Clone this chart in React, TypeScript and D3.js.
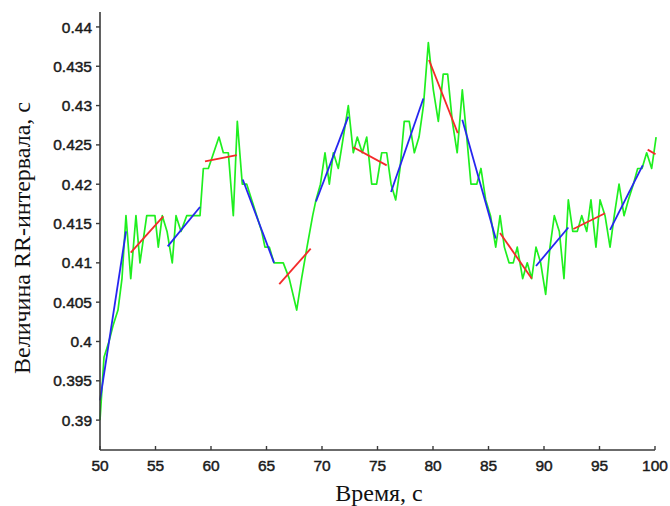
import * as d3 from "d3";

// beat times (s) and RR interval values (s)
const times = [
  50.0, 50.36, 50.81, 51.17, 51.62, 51.98, 52.34, 52.77, 53.24, 53.6, 54.21, 54.59, 54.95, 55.25,
  55.61, 56.04, 56.51, 56.85, 57.3, 57.81, 58.2, 58.56, 59.01, 59.31, 59.76, 60.24, 60.72, 61.11,
  61.56, 62.01, 62.37, 62.82, 63.22, 63.67, 64.12, 64.57, 64.86, 65.25, 65.68, 66.08, 66.51, 67.05,
  67.72, 68.16, 68.65, 69.16, 69.46, 69.86, 70.27, 70.66, 71.02, 71.47, 71.92, 72.37, 72.82, 73.18,
  73.63, 74.03, 74.48, 74.92, 75.38, 75.83, 76.22, 76.64, 77.03, 77.41, 77.86, 78.32, 78.74, 79.14,
  79.58, 80.03, 80.48, 80.92, 81.32, 81.74, 82.18, 82.64, 83.04, 83.42, 83.94, 84.32, 84.75, 85.18,
  85.65, 86.04, 86.43, 86.85, 87.23, 87.59, 88.08, 88.49, 88.89, 89.28, 89.7, 90.15, 90.54, 90.93,
  91.38, 91.8, 92.19, 92.59, 93.0, 93.4, 93.85, 94.23, 94.68, 95.05, 95.5, 95.95, 96.33, 96.76,
  97.21, 97.6, 98.05, 98.44, 98.83, 99.25, 99.7, 100.1,
];
const rrValues = [
  0.39, 0.398, 0.4, 0.402, 0.404, 0.408, 0.416, 0.408, 0.416, 0.41, 0.416, 0.416, 0.416, 0.412,
  0.416, 0.414, 0.41, 0.416, 0.414, 0.416, 0.416, 0.416, 0.416, 0.422, 0.422, 0.424, 0.426, 0.424,
  0.424, 0.416, 0.428, 0.42, 0.42, 0.418, 0.416, 0.414, 0.412, 0.412, 0.41, 0.41, 0.41, 0.408,
  0.404, 0.408, 0.412, 0.416, 0.418, 0.42, 0.424, 0.42, 0.424, 0.422, 0.426, 0.43, 0.424, 0.426,
  0.424, 0.426, 0.42, 0.42, 0.424, 0.424, 0.42, 0.418, 0.422, 0.428, 0.428, 0.424, 0.426, 0.43,
  0.438, 0.432, 0.428, 0.434, 0.434, 0.428, 0.424, 0.432, 0.426, 0.42, 0.42, 0.422, 0.418, 0.416,
  0.412, 0.416, 0.412, 0.41, 0.41, 0.412, 0.408, 0.41, 0.408, 0.412, 0.41, 0.406, 0.412, 0.416,
  0.414, 0.408, 0.418, 0.414, 0.414, 0.416, 0.414, 0.418, 0.412, 0.418, 0.416, 0.412, 0.416, 0.42,
  0.416, 0.418, 0.42, 0.422, 0.422, 0.424, 0.422, 0.426,
];

// linear fits over ~3 s windows (alternating blue / red)
const fitStartT = [50.0, 52.77, 56.1, 59.46, 62.86, 66.15, 69.46, 72.82, 76.22, 79.64, 82.64, 86.04, 89.28, 92.64, 95.95, 99.34];
const fitEndT = [52.34, 55.7, 59.01, 62.32, 65.68, 68.98, 72.37, 75.83, 79.13, 82.23, 85.65, 88.89, 92.19, 95.5, 98.89, 100.05];
const fitStartV = [0.3925, 0.4113, 0.4121, 0.4229, 0.4206, 0.4073, 0.4178, 0.4247, 0.419, 0.4358, 0.4282, 0.4138, 0.4096, 0.4143, 0.4142, 0.4244];
const fitEndV = [0.414, 0.4159, 0.4171, 0.4237, 0.41, 0.4118, 0.4286, 0.4224, 0.4309, 0.4265, 0.4131, 0.408, 0.4145, 0.4163, 0.4224, 0.4238];

const xTicks = [50, 55, 60, 65, 70, 75, 80, 85, 90, 95, 100];
const yTicks = [0.39, 0.395, 0.4, 0.405, 0.41, 0.415, 0.42, 0.425, 0.43, 0.435, 0.44];

const W = 670;
const H = 506;
const left = 100;
const right = 655;
const top = 12;
const bottom = 450;

export default function App() {
  const x = d3.scaleLinear().domain([50, 100]).range([left, right]);
  const y = d3.scaleLinear().domain([0.3862, 0.4419]).range([bottom, top]);

  const pts = times.map((t, i) => [t, rrValues[i]] as [number, number]);
  const line = d3
    .line<[number, number]>()
    .x((d) => x(d[0]))
    .y((d) => y(d[1]));

  const axisColor = "#3a3a3a";
  const tickFont = "'Liberation Sans', Arial, sans-serif";
  const titleFont = "'Liberation Serif', 'Times New Roman', serif";

  return (
    <svg
      width={W}
      height={H}
      style={{ position: "absolute", left: 0, top: 0, background: "#fff" }}
    >
      {/* green RR series */}
      <path d={line(pts) || ""} fill="none" stroke="#1fef1f" strokeWidth={1.7} strokeLinejoin="round" />

      {/* fitted segments */}
      {fitStartT.map((t0, i) => (
        <line
          key={i}
          x1={x(t0)}
          y1={y(fitStartV[i])}
          x2={x(fitEndT[i])}
          y2={y(fitEndV[i])}
          stroke={i % 2 === 0 ? "#2626f0" : "#f42a2a"}
          strokeWidth={1.8}
        />
      ))}

      {/* axes */}
      <line x1={left} y1={top} x2={left} y2={bottom} stroke={axisColor} strokeWidth={1.6} />
      <line x1={left} y1={bottom} x2={right} y2={bottom} stroke={axisColor} strokeWidth={1.6} />

      {yTicks.map((v) => (
        <g key={v}>
          <line x1={left - 4} x2={left} y1={y(v)} y2={y(v)} stroke={axisColor} strokeWidth={1.4} />
          <text
            x={left - 8}
            y={y(v)}
            dy="0.36em"
            textAnchor="end"
            fontFamily={tickFont}
            fontSize={15.5}
            fill="#1a1a1a"
            stroke="#1a1a1a"
            strokeWidth={0.45}
          >
            {String(+v.toFixed(3))}
          </text>
        </g>
      ))}

      {xTicks.map((v) => (
        <g key={v}>
          <line x1={x(v)} x2={x(v)} y1={bottom - 4} y2={bottom} stroke={axisColor} strokeWidth={1.4} />
          <text
            x={x(v)}
            y={bottom + 21}
            textAnchor="middle"
            fontFamily={tickFont}
            fontSize={15.5}
            fill="#1a1a1a"
            stroke="#1a1a1a"
            strokeWidth={0.45}
          >
            {v}
          </text>
        </g>
      ))}

      <text
        x={379}
        y={501}
        textAnchor="middle"
        fontFamily={titleFont}
        fontSize={24}
        fill="#111"
      >
        Время, с
      </text>
      <text
        transform={`translate(30, 238) rotate(-90)`}
        textAnchor="middle"
        fontFamily={titleFont}
        fontSize={24}
        fill="#111"
      >
        Величина RR-интервала, с
      </text>
    </svg>
  );
}
